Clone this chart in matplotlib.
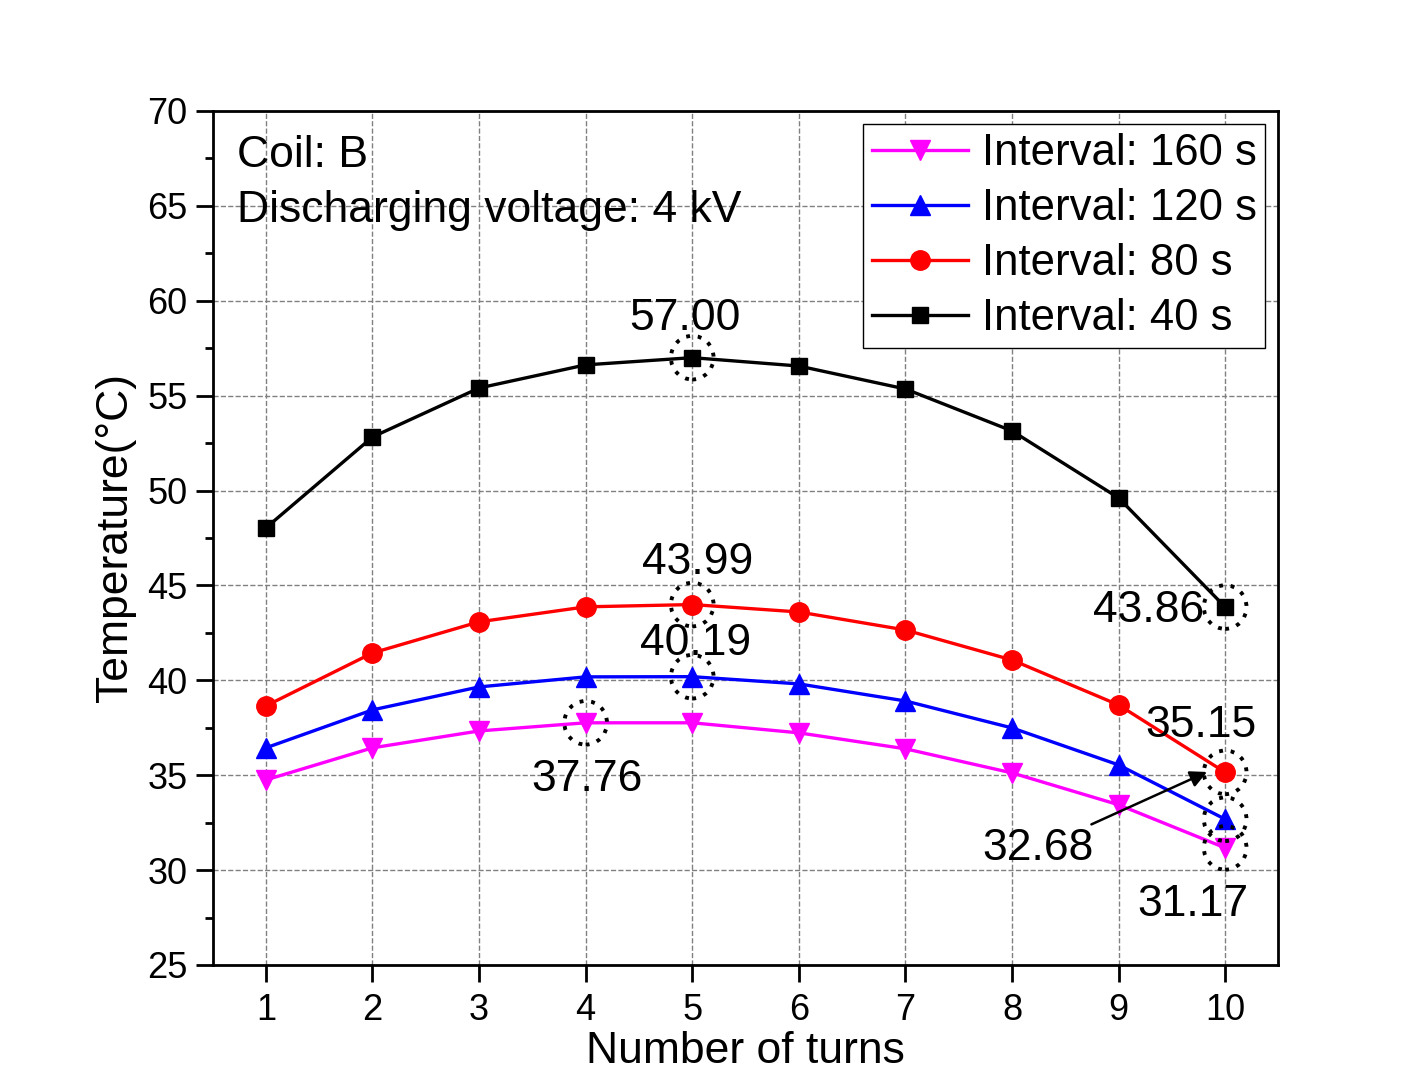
import matplotlib.pyplot as plt
from matplotlib.patches import Ellipse
from matplotlib.ticker import MultipleLocator

plt.rcParams['font.family'] = ['Liberation Sans', 'DejaVu Sans']

turns = [1, 2, 3, 4, 5, 6, 7, 8, 9, 10]
temp_160 = [34.75, 36.44, 37.33, 37.76, 37.76, 37.23, 36.39, 35.12, 33.44, 31.17]
temp_120 = [36.44, 38.44, 39.65, 40.18, 40.19, 39.81, 38.91, 37.49, 35.54, 32.68]
temp_80 = [38.65, 41.44, 43.08, 43.87, 43.99, 43.60, 42.65, 41.07, 38.70, 35.15]
temp_40 = [48.03, 52.82, 55.40, 56.62, 57.00, 56.56, 55.35, 53.14, 49.61, 43.86]

fig = plt.figure(figsize=(14.08, 10.73), dpi=100)
ax = fig.add_axes([0.151, 0.1007, 0.757, 0.7959])

ax.plot(turns, temp_160, color='magenta', lw=2.4, marker='v', ms=15, label='Interval: 160 s')
ax.plot(turns, temp_120, color='blue', lw=2.4, marker='^', ms=15, label='Interval: 120 s')
ax.plot(turns, temp_80, color='red', lw=2.4, marker='o', ms=14, label='Interval: 80 s')
ax.plot(turns, temp_40, color='black', lw=2.4, marker='s', ms=12, label='Interval: 40 s')

# dotted circles around highlighted points
marks = [(5, temp_40[4]), (5, temp_80[4]), (5, temp_120[4]), (4, temp_160[3]),
         (10, temp_40[9]), (10, temp_80[9]), (10, temp_120[9]), (10, temp_160[9])]
for x, y in marks:
    ax.add_patch(Ellipse((x, y), 0.4, 2.3, fill=False, ls=(0, (1, 2)), lw=2.8, ec='black', zorder=5))

fs = 32
ax.text(4.93, 59.05, '57.00', fontsize=fs, ha='center', va='center')
ax.text(5.05, 46.2, '43.99', fontsize=fs, ha='center', va='center')
ax.text(5.03, 41.93, '40.19', fontsize=fs, ha='center', va='center')
ax.text(4.01, 34.76, '37.76', fontsize=fs, ha='center', va='center')
ax.text(9.28, 43.66, '43.86', fontsize=fs, ha='center', va='center')
ax.text(9.77, 37.61, '35.15', fontsize=fs, ha='center', va='center')
ax.text(9.70, 28.17, '31.17', fontsize=fs, ha='center', va='center')
ax.annotate('32.68', xy=(9.83, 35.17), xytext=(8.24, 31.12), fontsize=fs,
            ha='center', va='center',
            arrowprops=dict(arrowstyle='-|>', color='black', lw=1.8, mutation_scale=25, shrinkA=2, shrinkB=0))

ax.text(0.0225, 0.948, 'Coil: B', transform=ax.transAxes, fontsize=32, va='center')
ax.text(0.0225, 0.884, 'Discharging voltage: 4 kV', transform=ax.transAxes, fontsize=32, va='center')

ax.set_xlim(0.5, 10.5)
ax.set_ylim(25, 70)
ax.set_xticks(turns)
ax.yaxis.set_major_locator(MultipleLocator(5))
ax.yaxis.set_minor_locator(MultipleLocator(2.5))
ax.tick_params(axis='both', which='major', direction='out', length=12, width=2, labelsize=26, top=False, right=False)
ax.tick_params(axis='x', which='major', pad=8)
ax.tick_params(axis='y', which='major', pad=6)
ax.tick_params(axis='y', which='minor', direction='out', length=6, width=2, right=False)
ax.grid(True, which='major', ls='--', color='gray', lw=1)
for s in ax.spines.values():
    s.set_linewidth(2)

ax.set_xlabel('Number of turns', fontsize=32, labelpad=2)
ax.set_ylabel('Temperature(°C)', fontsize=32, labelpad=8)

ax.legend(loc='upper right', fontsize=31.5, frameon=True, fancybox=False, edgecolor='black',
          framealpha=1, handlelength=2.2, borderaxespad=0.3, labelspacing=0.32, handletextpad=0.3, borderpad=0.2)

fig.savefig('out.png', dpi=100)
